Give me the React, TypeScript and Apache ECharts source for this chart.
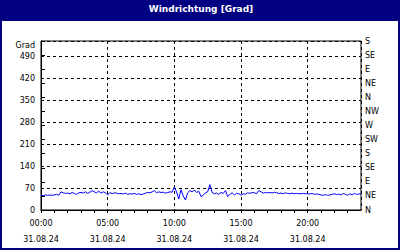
import React, { useEffect, useRef } from "react";
import * as echarts from "echarts";

const TITLE = "Windrichtung [Grad]";
const DATE_LABEL = "31.08.24";
const LEFT_UNIT = "Grad";
const DIRECTIONS = ["N", "NE", "E", "SE", "S", "SW", "W", "NW", "N", "NE", "E", "SE", "S"];
const STEP_MINUTES = 10;
// wind direction in degrees, one value every 10 minutes from 00:00 to 24:00
const VALUES = [
  47, 46, 48, 47, 48, 47,
  48, 50, 47, 58, 55, 53,
  54, 52, 56, 53, 50, 55,
  56, 54, 58, 53, 57, 62,
  58, 55, 60, 54, 58, 55,
  48, 56, 52, 55, 54, 52,
  53, 51, 54, 50, 52, 51,
  53, 50, 52, 49, 51, 54,
  56, 55, 58, 62, 55, 58,
  56, 57, 54, 56, 58, 57,
  73, 58, 35, 65, 45, 32,
  55, 62, 58, 64, 56, 60,
  43, 47, 55, 58, 81, 56,
  52, 54, 50, 56, 53, 62,
  43, 50, 55, 48, 53, 52,
  47, 52, 50, 55, 53, 56,
  55, 52, 62, 58, 54, 56,
  55, 56, 54, 57, 55, 53,
  54, 52, 55, 53, 52, 54,
  52, 53, 52, 52, 53, 52,
  52, 51, 53, 50, 51, 50,
  48, 47, 49, 47, 48, 50,
  52, 49, 51, 48, 53, 50,
  47, 52, 48, 53, 50, 51,
  52,
];

const FONT = "DejaVu Sans";
const NAVY = "#000080";

export default function App() {
  const ref = useRef<HTMLDivElement>(null);
  useEffect(() => {
    if (!ref.current) return;
    const chart = echarts.init(ref.current, undefined, { renderer: "svg" });
    const data = VALUES.map((v, i) => [(i * STEP_MINUTES) / 60, v]);
    const pad = (n: number) => (n < 10 ? "0" + n : "" + n);
    chart.setOption({
      animation: false,
      backgroundColor: "#ffffff",
      textStyle: { fontFamily: FONT },
      graphic: [
        { type: "rect", shape: { x: 0, y: 0, width: 400, height: 21 }, style: { fill: NAVY }, silent: true },
        { type: "rect", shape: { x: 0, y: 21, width: 2, height: 229 }, style: { fill: NAVY }, silent: true },
        { type: "rect", shape: { x: 398, y: 21, width: 2, height: 229 }, style: { fill: NAVY }, silent: true },
        { type: "rect", shape: { x: 0, y: 248, width: 400, height: 2 }, style: { fill: NAVY }, silent: true },
        {
          type: "text",
          x: 201,
          y: 9,
          style: {
            text: TITLE,
            fill: "#ffffff",
            font: `bold 9px "${FONT}"`,
            textAlign: "center",
            textVerticalAlign: "middle",
          },
          silent: true,
        },
      ],
      grid: {
        left: 41,
        right: 39,
        top: 41,
        bottom: 40,
        show: true,
        borderColor: "#000",
        borderWidth: 1,
        backgroundColor: "#fff",
      },
      xAxis: [
        {
          type: "value",
          min: 0,
          max: 24,
          interval: 1,
          axisLine: { show: true, lineStyle: { color: "#000", width: 1 } },
          axisTick: { show: true, length: 3, lineStyle: { color: "#000" } },
          splitLine: { show: false },
          axisLabel: {
            show: true,
            margin: 5,
            color: "#000",
            fontFamily: FONT,
            fontSize: 8,
            lineHeight: 16,
            showMaxLabel: false,
            formatter: (v: number) => (v % 5 === 0 && v < 24 ? `${pad(v)}:00\n${DATE_LABEL}` : ""),
          },
        },
        {
          type: "value",
          min: 0,
          max: 24,
          interval: 5,
          position: "bottom",
          axisLine: { show: false },
          axisTick: { show: false },
          axisLabel: { show: false },
          splitLine: { show: true, lineStyle: { color: "#000", type: [3, 3], width: 1 } },
        },
      ],
      yAxis: [
        {
          type: "value",
          min: 0,
          max: 540,
          interval: 70,
          position: "left",
          axisLine: { show: true, lineStyle: { color: "#000" } },
          axisTick: { show: false },
          splitLine: { show: true, lineStyle: { color: "#000", type: [3, 3], width: 1 } },
          axisLabel: {
            show: true,
            margin: 6,
            color: "#000",
            fontFamily: FONT,
            fontSize: 8,
            showMaxLabel: true,
            formatter: (v: number) => (v === 540 ? `{g|${LEFT_UNIT}}` : String(v)),
            rich: { g: { fontFamily: FONT, fontSize: 8, color: "#000", padding: [8, 0, 0, 0] } },
          },
        },
        {
          type: "value",
          min: 0,
          max: 540,
          interval: 45,
          position: "right",
          axisLine: { show: true, lineStyle: { color: "#000" } },
          axisTick: { show: true, length: 4, lineStyle: { color: "#000" } },
          splitLine: { show: false },
          axisLabel: {
            show: true,
            margin: 4,
            color: "#000",
            fontFamily: FONT,
            fontSize: 8,
            formatter: (v: number) => DIRECTIONS[Math.round(v / 45)] ?? "",
          },
        },
      ],
      series: [
        {
          type: "line",
          xAxisIndex: 0,
          yAxisIndex: 0,
          data,
          symbol: "none",
          lineStyle: { color: "#0000ff", width: 1 },
          z: 5,
        },
      ],
    });
    return () => chart.dispose();
  }, []);
  return (
    <div
      ref={ref}
      style={{ position: "absolute", left: 0, top: 0, width: 400, height: 250, background: "#fff" }}
    />
  );
}
